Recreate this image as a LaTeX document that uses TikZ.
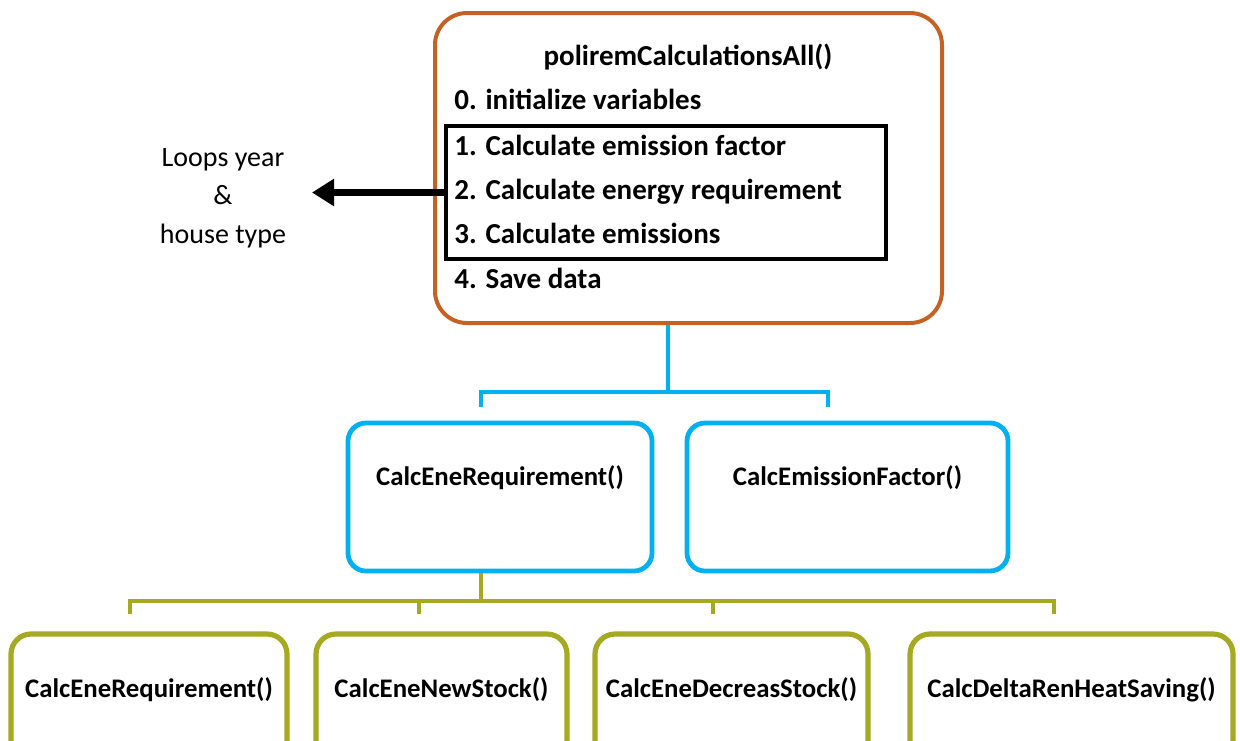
\documentclass[tikz,border=0pt]{standalone}
\usepackage{fontspec}
\setmainfont{Carlito}
\usetikzlibrary{arrows.meta}
\definecolor{rust}{RGB}{197, 98, 35}
\definecolor{sky}{RGB}{0, 176, 240}
\definecolor{olive}{RGB}{166, 170, 34}

\begin{document}
\begin{tikzpicture}[x=0.5pt, y=-0.5pt,
  mainbox/.style={draw=rust, line width=2pt, rounded corners=16pt, minimum width=253.5pt, minimum height=155pt},
  loopbox/.style={draw=black, line width=1.8pt, minimum width=220pt, minimum height=66.5pt},
  bluebox/.style={draw=sky, line width=2.4pt, rounded corners=9pt, minimum height=74pt},
  greenbox/.style={draw=olive, line width=2.6pt, rounded corners=10pt, minimum height=74pt},
  steptext/.style={anchor=base west, inner sep=0pt, font=\fontsize{14.5}{17}\selectfont\bfseries},
  boxtext/.style={inner sep=0pt, font=\fontsize{13.4}{15}\selectfont\bfseries},
  bluelink/.style={draw=sky, line width=2pt},
  greenlink/.style={draw=olive, line width=2pt}]
  \clip[use as bounding box] (0, 0) rectangle (1240, 740);
  \fill[white] (0, 0) rectangle (1240, 740);
  % main function with its steps
  \node[mainbox] (all) at (688.5, 168) {};
  \node[steptext, anchor=base] (title) at (688, 65) {poliremCalculationsAll()};
  \node[steptext] (s0) at (454, 109) {0. initialize variables};
  \node[steptext] (s1) at (454, 155) {1. Calculate emission factor};
  \node[steptext] (s2) at (454, 199) {2. Calculate energy requirement};
  \node[steptext] (s3) at (454, 243) {3. Calculate emissions};
  \node[steptext] (s4) at (454, 288) {4. Save data};
  \node[loopbox] (loop) at (666, 192.5) {};
  % loops
  \node[align=center, font=\fontsize{14}{19.3}\selectfont] (loops) at (223, 198) {Loops year\\\&\\house type};
  \coordinate (loopend) at (312, 192.5);
  \draw[line width=3.5pt, -{Triangle[length=11pt, width=13pt]}] (loop.west) -- (loopend);
  % second level
  \node[bluebox, minimum width=152pt] (ene) at (500, 497) {};
  \node[bluebox, minimum width=160.5pt] (emi) at (847.5, 497) {};
  \node[boxtext] (enetext) at ([yshift=9.5pt]ene.center) {CalcEneRequirement()};
  \node[boxtext] (emitext) at ([yshift=9.5pt]emi.center) {CalcEmissionFactor()};
  \coordinate (bluefork) at (668, 392);
  \coordinate (eneup) at (481, 407);
  \coordinate (emiup) at (828, 407);
  \draw[bluelink] (all.south -| bluefork) -- (bluefork);
  \draw[bluelink] (eneup) |- (bluefork) -| (emiup);
  % third level
  \foreach \name/\cx/\w/\txt in {req/149/138/CalcEneRequirement(), new/441.5/125.5/CalcEneNewStock(),
      dec/731.5/136.5/CalcEneDecreasStock(), del/1071.5/161.5/CalcDeltaRenHeatSaving()}{
    \node[greenbox, minimum width=\w pt] (\name) at (\cx, 708) {};
    \node[boxtext] (\name-text) at ([yshift=9pt]\name.center) {\txt};
  }
  \coordinate (greenfork) at (481, 601);
  \coordinate (requp) at (130, 614);
  \coordinate (newup) at (419, 614);
  \coordinate (decup) at (713, 614);
  \coordinate (delup) at (1054, 614);
  \draw[greenlink] (ene.south -| greenfork) -- (greenfork);
  \draw[greenlink] (requp) |- (greenfork) -| (delup);
  \foreach \up in {newup, decup}
    \draw[greenlink] (\up) -- (\up |- greenfork);
\end{tikzpicture}
\end{document}
